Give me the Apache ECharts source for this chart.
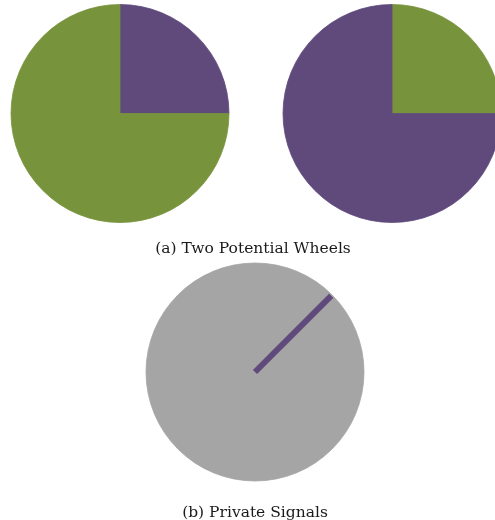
<!DOCTYPE html>
<html>
<head>
<meta charset="utf-8">
<script src="https://cdn.jsdelivr.net/npm/echarts@6/dist/echarts.min.js"></script>
<style>
html,body{margin:0;padding:0;background:#fff;}
#main{width:495px;height:520px;}
</style>
</head>
<body>
<div id="main"></div>
<script>
// Data
var wheelCategories = ['Purple', 'Green'];
var wheelAValues = [25, 75];   // purple, green
var wheelBValues = [75, 25];   // purple, green
var signalCategories = ['Signal space'];
var signalValues = [100];
var signalAngle = 45;          // degrees, counter-clockwise from east
var signalLength = [0, 1];     // from centre to rim
var captions = ['(a) Two Potential Wheels', '(b) Private Signals'];

var PURPLE = '#604a7b', GREEN = '#77933c', GRAY = '#a5a5a5';

var chart = echarts.init(document.getElementById('main'), null, {renderer: 'canvas'});

function item(name, value, color) {
  return {name: name, value: value, itemStyle: {color: color, borderColor: color, borderWidth: 0.8}};
}

function pieSeries(center, data) {
  return {
    type: 'pie',
    center: center,
    radius: [0, 109],
    startAngle: 90,
    clockwise: true,
    label: {show: false},
    labelLine: {show: false},
    silent: true,
    emphasis: {disabled: true},
    data: data
  };
}

var capStyle = {fontFamily: 'DejaVu Serif', fontSize: 15.5, fontWeight: 'normal', color: '#1a1a1a'};

var option = {
  animation: false,
  backgroundColor: '#fff',
  title: [
    {text: captions[0], left: 248, top: 236, textAlign: 'center', textStyle: capStyle},
    {text: captions[1], left: 250, top: 500, textAlign: 'center', textStyle: capStyle}
  ],
  polar: {center: [255, 372], radius: [0, 108]},
  angleAxis: {type: 'value', min: 0, max: 360, startAngle: 0, clockwise: false, show: false},
  radiusAxis: {type: 'value', min: 0, max: 1, show: false},
  series: [
    pieSeries([120, 113.5], [
      item(wheelCategories[0], wheelAValues[0], PURPLE),
      item(wheelCategories[1], wheelAValues[1], GREEN)
    ]),
    pieSeries([392, 113.5], [
      item(wheelCategories[1], wheelBValues[1], GREEN),
      item(wheelCategories[0], wheelBValues[0], PURPLE)
    ]),
    pieSeries([255, 372], signalCategories.map(function(c, i){
      return item(c, signalValues[i], GRAY);
    })),
    {
      type: 'line',
      coordinateSystem: 'polar',
      z: 5,
      symbol: 'none',
      silent: true,
      lineStyle: {color: PURPLE, width: 6, cap: 'butt'},
      data: signalLength.map(function(r){ return [r, signalAngle]; })
    }
  ]
};
chart.setOption(option);
</script>
</body>
</html>
